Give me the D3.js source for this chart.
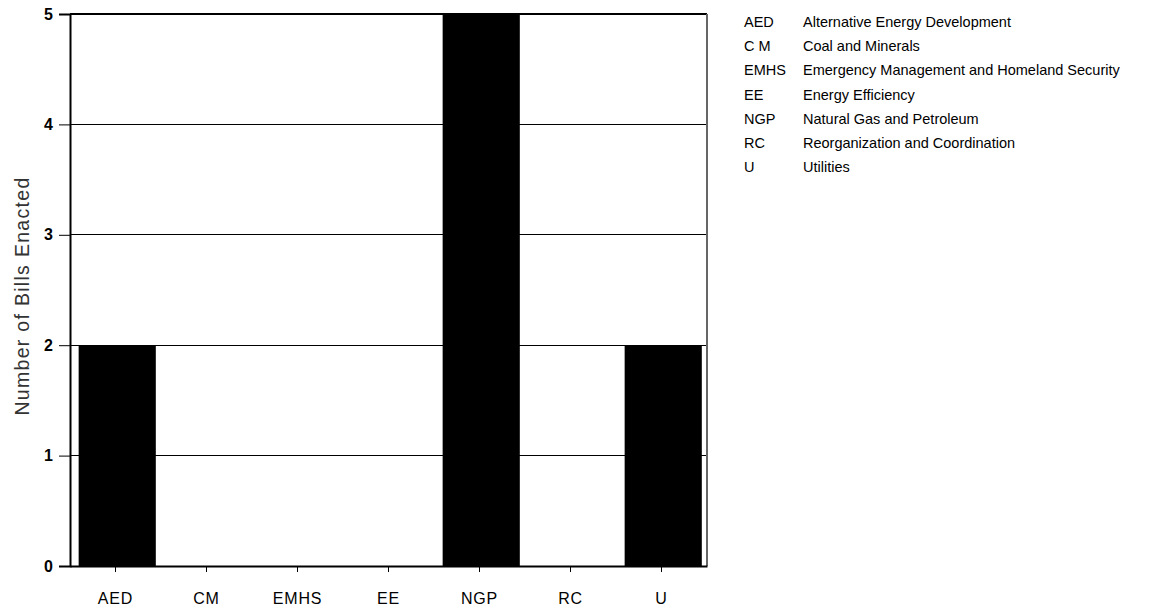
<!DOCTYPE html>
<html><head><meta charset="utf-8">
<script src="https://cdn.jsdelivr.net/npm/d3@7"></script>
<style>body{margin:0;background:#fff}svg{display:block}</style>
</head><body>
<svg id="c" width="1158" height="608"></svg>
<script>
const categories = ["AED","CM","EMHS","EE","NGP","RC","U"];
const values = [2,0,0,0,5,0,2];
const yTicks = [0,1,2,3,4,5];
const legendAbbr = ["AED","C M","EMHS","EE","NGP","RC","U"];
const legendText = ["Alternative Energy Development","Coal and Minerals","Emergency Management and Homeland Security","Energy Efficiency","Natural Gas and Petroleum","Reorganization and Coordination","Utilities"];
const yTitle = "Number of Bills Enacted";

const svg = d3.select("#c");
const m = {l:70, t:14, r:707, b:566};
const x = d3.scaleBand().domain(categories).range([m.l, m.r]);
const y = d3.scaleLinear().domain([0,5]).range([m.b, m.t]);
const bw = x.bandwidth();
const font = "Arial, 'Liberation Sans', sans-serif";

// gridlines
svg.append("g").selectAll("line").data(yTicks.filter(d=>d>0&&d<5)).join("line")
  .attr("x1", m.l).attr("x2", m.r).attr("y1", d=>y(d)).attr("y2", d=>y(d))
  .attr("stroke","#000").attr("stroke-width",1).attr("shape-rendering","crispEdges");

// bars
svg.append("g").selectAll("rect").data(values).join("rect")
  .attr("x",(d,i)=>x(categories[i]) + bw*0.095)
  .attr("width", bw*0.848)
  .attr("y", d=>y(d)).attr("height", d=>y(0)-y(d))
  .attr("fill","#000");

// frame: top and right
svg.append("line").attr("x1",m.l).attr("x2",m.r).attr("y1",y(5)).attr("y2",y(5))
  .attr("stroke","#000").attr("stroke-width",2);
svg.append("line").attr("x1",m.r).attr("x2",m.r).attr("y1",y(5)).attr("y2",y(0))
  .attr("stroke","#666").attr("stroke-width",2);

// y axis
const ya = svg.append("g").attr("transform",`translate(${m.l},0)`)
  .call(d3.axisLeft(y).tickValues(yTicks).tickFormat(d3.format("d")).tickSize(11).tickPadding(6));
ya.select(".domain").attr("stroke","#000").attr("stroke-width",2);
ya.selectAll(".tick line").attr("stroke","#000").attr("stroke-width",1);
ya.selectAll("text").attr("font-family",font).attr("font-size",16).attr("font-weight","bold").attr("fill","#000");

// x axis
const xa = svg.append("g").attr("transform",`translate(0,${m.b})`)
  .call(d3.axisBottom(x).tickSize(6).tickSizeOuter(0).tickPadding(21));
xa.select(".domain").attr("stroke","#000").attr("stroke-width",2);
xa.selectAll(".tick line").attr("stroke","#000").attr("stroke-width",1);
xa.selectAll("text").attr("font-family",font).attr("font-size",16).attr("letter-spacing",0.8).attr("fill","#000");

// y title
svg.append("text").attr("transform",`translate(22,${296}) rotate(-90)`)
  .attr("text-anchor","middle").attr("dominant-baseline","central")
  .attr("font-family",font).attr("font-size",19.5).attr("letter-spacing",1.3)
  .attr("fill","#333").text(yTitle);

// legend
const lg = svg.append("g").attr("font-family",font).attr("font-size",14.5).attr("fill","#000");
const ly = d3.scalePoint().domain(d3.range(legendAbbr.length)).range([22,167]);
lg.selectAll("text.a").data(legendAbbr).join("text").attr("class","a")
  .attr("x",744).attr("y",(d,i)=>ly(i)).attr("dominant-baseline","central").text(d=>d);
lg.selectAll("text.b").data(legendText).join("text").attr("class","b")
  .attr("x",803).attr("y",(d,i)=>ly(i)).attr("dominant-baseline","central").text(d=>d);
</script>
</body></html>
